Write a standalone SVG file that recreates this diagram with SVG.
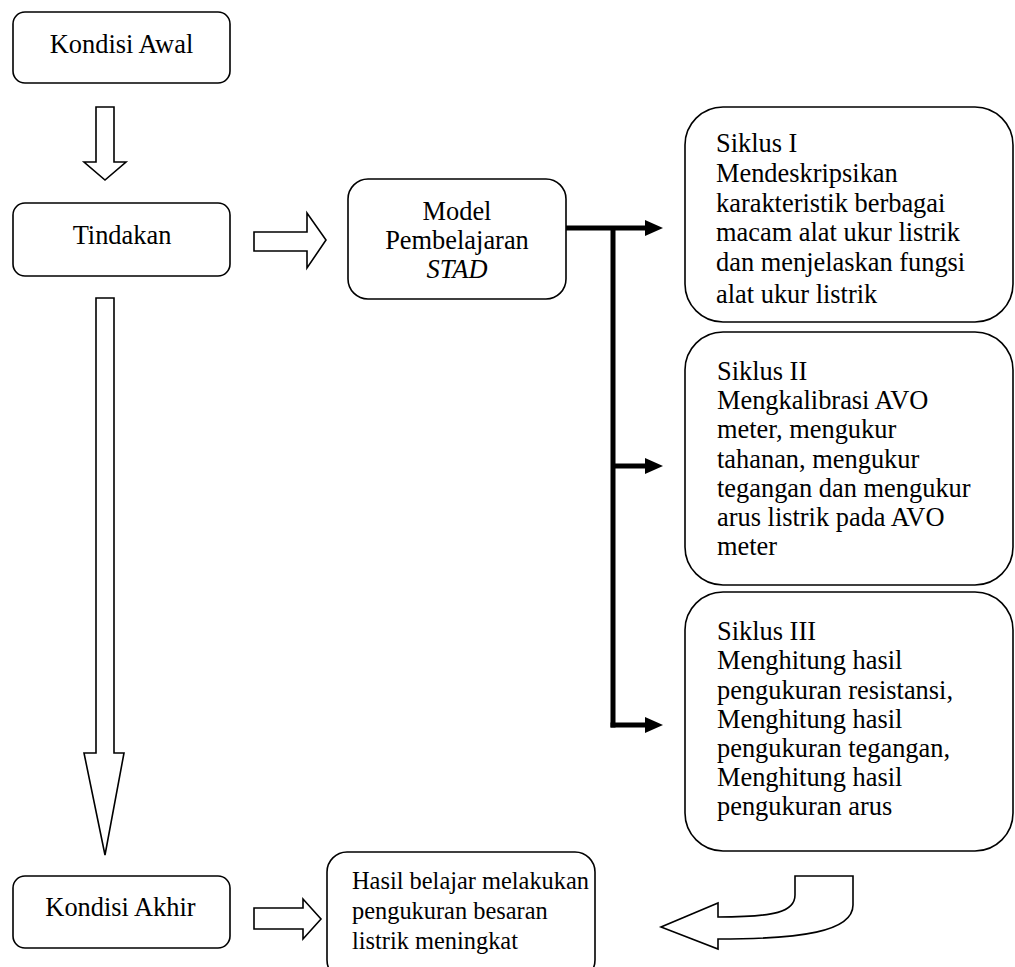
<svg xmlns="http://www.w3.org/2000/svg" width="1015" height="967" viewBox="0 0 1015 967">
<style>
.box{fill:#fff;stroke:#000;stroke-width:1.6}
.blk{fill:#fff;stroke:#000;stroke-width:1.6;stroke-linejoin:miter}
text{font-family:'Liberation Serif','Times New Roman','DejaVu Serif',serif;font-size:26.4px;fill:#000}
.c{text-anchor:middle}
.s{font-size:24.4px}
.conn{fill:none;stroke:#000;stroke-width:5}
</style>
<defs>
<marker id="ah" markerUnits="userSpaceOnUse" markerWidth="19" markerHeight="18" refX="0" refY="9" orient="auto">
<path d="M0,1 L18,9 L0,17 z" fill="#000"/>
</marker>
<clipPath id="clip1"><rect x="685" y="107" width="330" height="196"/></clipPath>
</defs>
<rect width="1015" height="967" fill="#fff"/>

<g id="kondisi-awal">
<rect class="box" x="13" y="12" width="217" height="71" rx="12"/>
<text class="c" x="121.5" y="53">Kondisi Awal</text>
</g>
<g id="tindakan">
<rect class="box" x="13" y="203" width="217" height="73" rx="12"/>
<text class="c" x="122" y="244">Tindakan</text>
</g>
<g id="kondisi-akhir">
<rect class="box" x="13" y="876" width="217" height="72" rx="12"/>
<text class="c" x="120.5" y="916">Kondisi Akhir</text>
</g>
<g id="model">
<rect class="box" x="348" y="179" width="218" height="120" rx="20"/>
<text class="c" x="457" y="220">Model</text>
<text class="c" x="457" y="249">Pembelajaran</text>
<text class="c" x="457" y="278" font-style="italic">STAD</text>
</g>
<g id="siklus-1">
<rect class="box" x="685" y="107" width="328" height="215" rx="38"/>
<g clip-path="url(#clip1)">
<text x="716" y="152">Siklus I</text>
<text x="716" y="182">Mendeskripsikan</text>
<text x="716" y="212">karakteristik berbagai</text>
<text x="716" y="241">macam alat ukur listrik</text>
<text x="716" y="271">dan menjelaskan fungsi</text>
<text x="716" y="303">alat ukur listrik</text>
</g>
</g>
<g id="siklus-2">
<rect class="box" x="685" y="332" width="328" height="253" rx="38"/>
<text x="717" y="380">Siklus II</text>
<text x="717" y="409">Mengkalibrasi AVO</text>
<text x="717" y="438">meter, mengukur</text>
<text x="717" y="468">tahanan, mengukur</text>
<text x="717" y="497">tegangan dan mengukur</text>
<text x="717" y="526">arus listrik pada AVO</text>
<text x="717" y="555">meter</text>
</g>
<g id="siklus-3">
<rect class="box" x="685" y="592" width="328" height="259" rx="38"/>
<text x="717" y="640">Siklus III</text>
<text x="717" y="669">Menghitung hasil</text>
<text x="717" y="699">pengukuran resistansi,</text>
<text x="717" y="728">Menghitung hasil</text>
<text x="717" y="757">pengukuran tegangan,</text>
<text x="717" y="786">Menghitung hasil</text>
<text x="717" y="815">pengukuran arus</text>
</g>
<g id="hasil">
<rect class="box" x="327" y="852" width="268" height="128" rx="20"/>
<text class="s" x="352" y="889">Hasil belajar melakukan</text>
<text class="s" x="352" y="919">pengukuran besaran</text>
<text class="s" x="352" y="949">listrik meningkat</text>
</g>

<g id="connectors">
<polygon class="blk" points="96,107 114,107 114,162 126,162 105,180 84,162 96,162"/>
<polygon class="blk" points="254,232 307,232 307,213 326,240 307,268 307,251 254,251"/>
<polygon class="blk" points="96,298 114,298 114,753 124,753 105,855 84,753 96,753"/>
<polygon class="blk" points="254,908 303,908 303,899 321,919 303,939 303,929 254,929"/>
<path class="blk" d="M795,876 H853 V905 C853,932 800,939 718,939 V949 L661,927 L718,903 V917 C775,917 795,912 795,895 Z"/>
<path class="conn" d="M566,228 H645" marker-end="url(#ah)"/>
<path class="conn" d="M613,226 V727.5"/>
<path class="conn" d="M613,466 H645" marker-end="url(#ah)"/>
<path class="conn" d="M610.5,725 H645" marker-end="url(#ah)"/>
</g>
</svg>
